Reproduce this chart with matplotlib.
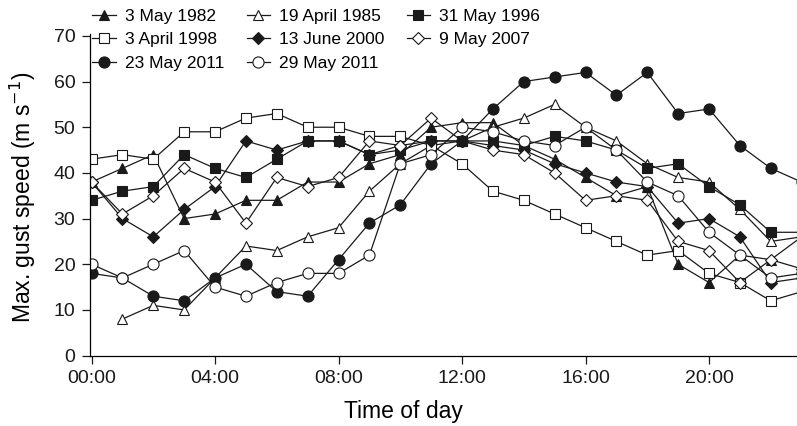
import numpy as np
import matplotlib
matplotlib.use("Agg")
import matplotlib.pyplot as plt

plt.rcParams["font.family"] = ["Liberation Sans", "DejaVu Sans"]

hours = list(range(24))
tick_labels = ["00:00", "04:00", "08:00", "12:00", "16:00", "20:00"]

may_1982 = [38, 41, 44, 30, 31, 34, 34, 38, 38, 42, 44, 50, 51, 51, 46, 43, 39, 35, 37, 20, 16, 22, 21, 26]
apr_1985 = [np.nan, 8, 11, 10, 17, 24, 23, 26, 28, 36, 42, 46, 47, 50, 52, 55, 50, 47, 42, 39, 38, 32, 25, 26]
may_1996 = [34, 36, 37, 44, 41, 39, 43, 47, 47, 44, 45, 47, 47, 47, 46, 48, 47, 45, 41, 42, 37, 33, 27, 27]
apr_1998 = [43, 44, 43, 49, 49, 52, 53, 50, 50, 48, 48, 46, 42, 36, 34, 31, 28, 25, 22, 23, 18, 16, 12, 14]
jun_2000 = [38, 30, 26, 32, 37, 47, 45, 47, 47, 44, 46, 47, 47, 46, 45, 42, 40, 38, 37, 29, 30, 26, 16, 17]
may_2007 = [38, 31, 35, 41, 38, 29, 39, 37, 39, 47, 46, 52, 47, 45, 44, 40, 34, 35, 34, 25, 23, 16, 21, 19]
may23_2011 = [18, 17, 13, 12, 17, 20, 14, 13, 21, 29, 33, 42, 47, 54, 60, 61, 62, 57, 62, 53, 54, 46, 41, 38]
may29_2011 = [20, 17, 20, 23, 15, 13, 16, 18, 18, 22, 42, 44, 50, 49, 47, 46, 50, 45, 38, 35, 27, 22, 17, 18]

# (label, values, marker, filled)
series = [
    ("3 May 1982", may_1982, "^", True),
    ("19 April 1985", apr_1985, "^", False),
    ("31 May 1996", may_1996, "s", True),
    ("3 April 1998", apr_1998, "s", False),
    ("13 June 2000", jun_2000, "D", True),
    ("9 May 2007", may_2007, "D", False),
    ("23 May 2011", may23_2011, "o", True),
    ("29 May 2011", may29_2011, "o", False),
]

fig = plt.figure(figsize=(7.97, 4.26), dpi=100)
ax = fig.add_axes([90 / 797, 70.4 / 426, 707 / 797, 322 / 426])

sizes = {"^": 7.5, "s": 7.5, "D": 5.8, "o": 8}
handles = {}
for label, vals, mk, filled in series:
    h, = ax.plot(hours, vals, color="#1a1a1a", lw=0.9, marker=mk,
                 markersize=sizes[mk], markeredgewidth=0.8,
                 markerfacecolor="#1a1a1a" if filled else "white",
                 markeredgecolor="#1a1a1a", label=label)
    handles[label] = h

ax.set_xlim(-0.05, 22.85)
ax.set_ylim(0, 70.5)
ax.set_xticks([0, 4, 8, 12, 16, 20])
ax.set_xticklabels(tick_labels)
ax.set_yticks(range(0, 71, 10))
ax.spines["top"].set_visible(False)
ax.spines["right"].set_visible(False)
ax.spines["left"].set_linewidth(0.9)
ax.spines["bottom"].set_linewidth(0.9)
ax.tick_params(direction="out", length=5.5, width=0.9, labelsize=14,
               pad=5, colors="#1a1a1a")
ax.set_xlabel("Time of day", fontsize=16.5)
ax.xaxis.set_label_coords((403 - 90) / 707, -44 / 322)
ax.set_ylabel("Max. gust speed (m s$^{-1}$)", fontsize=16.5)
ax.yaxis.set_label_coords(-52 / 707, (355.6 - 197) / 322)

order = ["3 May 1982", "3 April 1998", "23 May 2011",
         "19 April 1985", "13 June 2000", "29 May 2011",
         "31 May 1996", "9 May 2007"]
fig.legend([handles[k] for k in order], order, ncol=3, frameon=False,
           loc="upper left", bbox_to_anchor=(89 / 797, 1 - 5 / 426),
           fontsize=12.5, handlelength=1.35, handletextpad=0.5,
           columnspacing=1.3, labelspacing=0.5, borderpad=0.2,
           borderaxespad=0)

fig.savefig("out.png", dpi=100)
